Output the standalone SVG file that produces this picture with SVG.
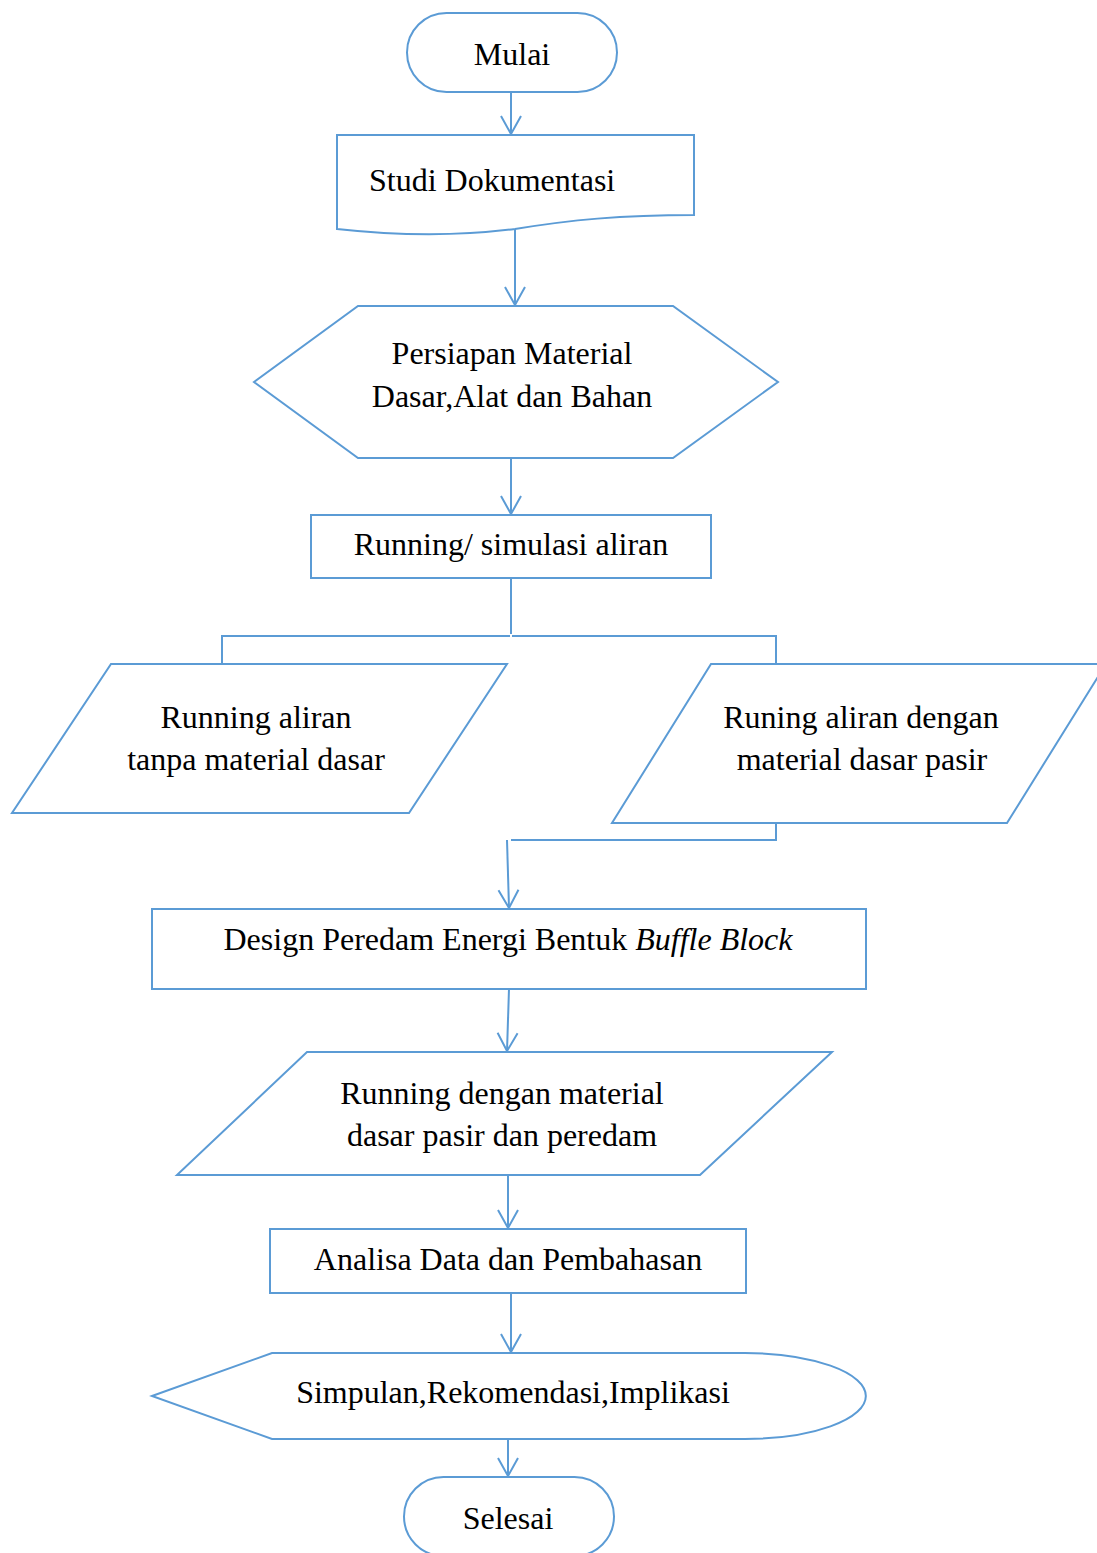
<svg xmlns="http://www.w3.org/2000/svg" width="1097" height="1553" viewBox="0 0 1097 1553">
<style>
.s{fill:#fff;stroke:#5B9BD5;stroke-width:2;stroke-linejoin:miter}
.c{fill:none;stroke:#5B9BD5;stroke-width:2}
text{font-family:"Liberation Serif","Times New Roman",serif;font-size:32px;fill:#000}
.m{text-anchor:middle}
</style>
<defs>
<marker id="arr" markerUnits="userSpaceOnUse" viewBox="-21 -12 23 24" markerWidth="23" markerHeight="24" refX="0" refY="0" orient="auto" overflow="visible">
<path d="M-18,-10 L0,0 L-18,10" fill="none" stroke="#5B9BD5" stroke-width="2"/>
</marker>
</defs>
<rect width="1097" height="1553" fill="#fff"/>
<g id="connectors">
<path class="c" d="M511,92 V134" marker-end="url(#arr)"/>
<path class="c" d="M515,229 V305" marker-end="url(#arr)"/>
<path class="c" d="M511,458 V514" marker-end="url(#arr)"/>
<path class="c" d="M511,578 V634"/>
<path class="c" d="M510,636 H222 V664"/>
<path class="c" d="M512,636 H776 V664"/>
<path class="c" d="M776,823 V840 H511"/>
<path class="c" d="M507,840 L509,908" marker-end="url(#arr)"/>
<path class="c" d="M509,989 L507,1051" marker-end="url(#arr)"/>
<path class="c" d="M508,1175 V1228" marker-end="url(#arr)"/>
<path class="c" d="M511,1293 V1352" marker-end="url(#arr)"/>
<path class="c" d="M508,1439 V1476" marker-end="url(#arr)"/>
</g>
<g id="mulai">
<rect class="s" x="407" y="13" width="210" height="79" rx="39.5"/>
<text class="m" x="512" y="65">Mulai</text>
</g>
<g id="studi">
<path class="s" d="M337,135 H694 V215 C620,215 570,220 515,229 C460,236 400,236 337,229 Z"/>
<text x="369" y="191">Studi Dokumentasi</text>
</g>
<g id="persiapan">
<path class="s" d="M254,382 L358,306 H673 L778,382 L673,458 H358 Z"/>
<text class="m" x="512" y="364">Persiapan Material</text>
<text class="m" x="512" y="407">Dasar,Alat dan Bahan</text>
</g>
<g id="running">
<rect class="s" x="311" y="515" width="400" height="63"/>
<text class="m" x="511" y="555">Running/ simulasi aliran</text>
</g>
<g id="tanpa">
<path class="s" d="M111,664 H507 L409,813 H12 Z"/>
<text class="m" x="256" y="728">Running aliran</text>
<text class="m" x="256" y="770">tanpa material dasar</text>
</g>
<g id="dengan">
<path class="s" d="M711,664 H1106 L1007,823 H612 Z"/>
<text class="m" x="861" y="728">Runing aliran dengan</text>
<text class="m" x="862" y="770">material dasar pasir</text>
</g>
<g id="design">
<rect class="s" x="152" y="909" width="714" height="80"/>
<text class="m" x="508" y="950">Design Peredam Energi Bentuk <tspan font-style="italic">Buffle Block</tspan></text>
</g>
<g id="peredam">
<path class="s" d="M307,1052 H832 L700,1175 H177 Z"/>
<text class="m" x="502" y="1104">Running dengan material</text>
<text class="m" x="502" y="1146">dasar pasir dan peredam</text>
</g>
<g id="analisa">
<rect class="s" x="270" y="1229" width="476" height="64"/>
<text class="m" x="508" y="1270">Analisa Data dan Pembahasan</text>
</g>
<g id="simpulan">
<path class="s" d="M152,1396 L272,1353 H745 A121,43 0 0 1 745,1439 H272 Z"/>
<text class="m" x="513" y="1403">Simpulan,Rekomendasi,Implikasi</text>
</g>
<g id="selesai">
<rect class="s" x="404" y="1477" width="210" height="79" rx="39.5"/>
<text class="m" x="508" y="1529">Selesai</text>
</g>
</svg>
